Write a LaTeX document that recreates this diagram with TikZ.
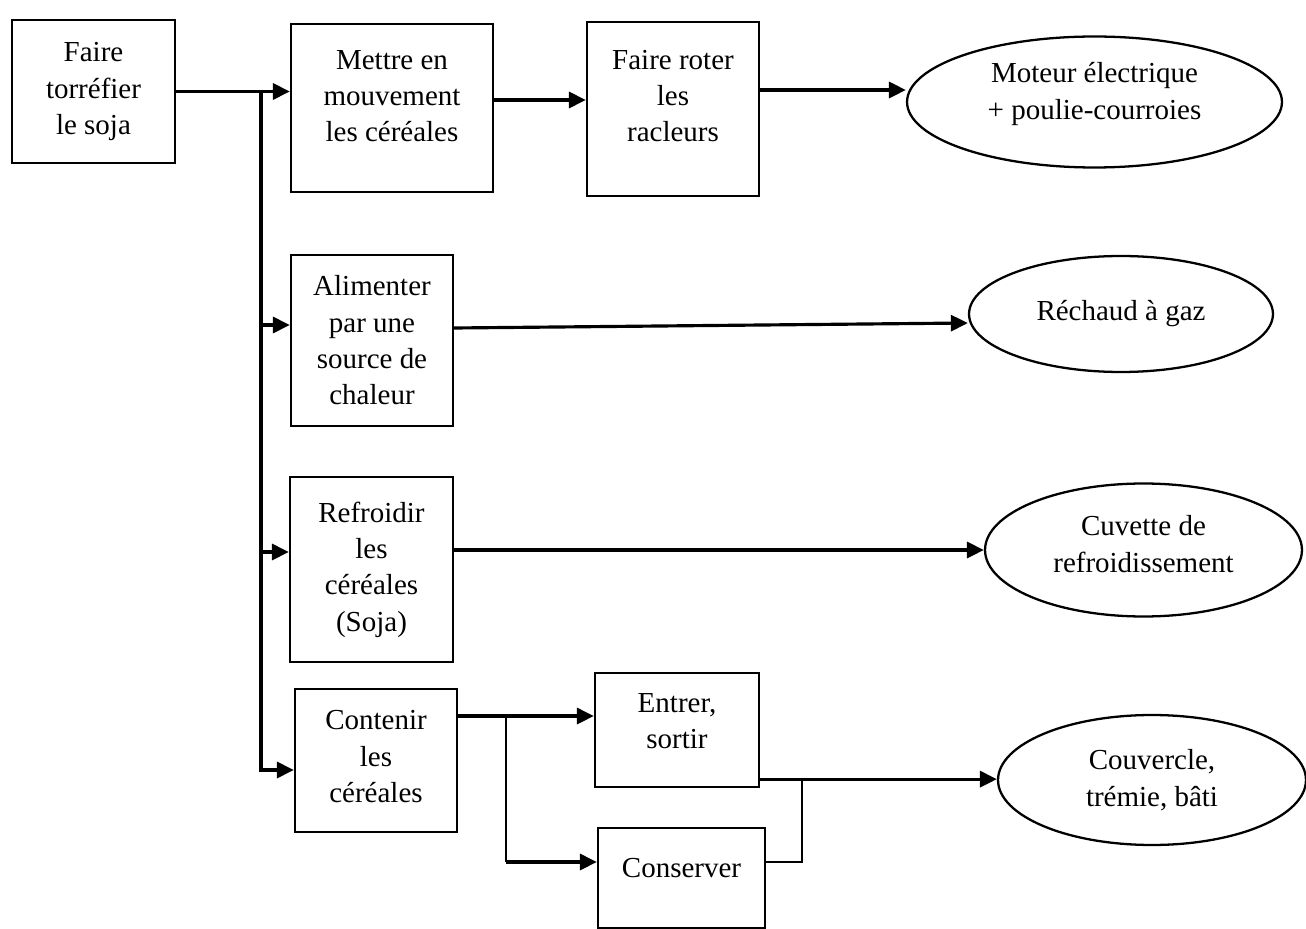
\documentclass[tikz,border=0pt]{standalone}
\usepackage{fontspec}
\setmainfont{Liberation Serif}
\usepackage{tikz}
\usetikzlibrary{shapes,arrows,arrows.meta,positioning,calc}

\begin{document}
\begin{tikzpicture}[x=0.02cm, y=-0.02cm, >={Triangle[length=0.34cm,width=0.32cm]}, line width=1.8pt, font=\fontsize{16.5}{20.7}\selectfont]
\tikzstyle{bloc}=[draw=black, rectangle, line width=1.3pt, align=center, inner sep=0pt]
\tikzstyle{ovale}=[draw=black, ellipse, line width=1.3pt, align=center, inner sep=0pt]
\tikzstyle{fin}=[line width=0.8pt]
\useasboundingbox (0,0) rectangle (1306,929);

% fonctions
\node[bloc, minimum width=3.26cm, minimum height=2.86cm] (torrefier) at (93.5,91.5) {Faire\\torréfier\\le soja};
\node[bloc, minimum width=4.04cm, minimum height=3.36cm, text depth=0.48cm] (mouvement) at (392,108) {Mettre en\\mouvement\\les céréales};
\node[bloc, minimum width=3.44cm, minimum height=3.48cm, text depth=0.52cm] (racleurs) at (673,109) {Faire roter\\les\\racleurs};
\node[bloc, minimum width=3.24cm, minimum height=3.42cm] (alimenter) at (372,340.5) {Alimenter\\par une\\source de\\chaleur};
\node[bloc, minimum width=3.26cm, minimum height=3.7cm] (refroidir) at (371.5,569.5) {Refroidir\\les\\céréales\\(Soja)};
\node[bloc, minimum width=3.24cm, minimum height=2.86cm, text depth=0.16cm] (contenir) at (376,760.5) {Contenir\\les\\céréales};
\node[bloc, minimum width=3.28cm, minimum height=2.28cm, text depth=0.36cm] (entrer) at (677,730) {Entrer,\\sortir};
\node[bloc, minimum width=3.34cm, minimum height=2cm, text depth=0.4cm] (conserver) at (681.5,878) {Conserver};

% solutions
\node[ovale, minimum width=7.5cm, minimum height=2.62cm, text depth=0.45cm] (moteur) at (1094.5,102) {Moteur électrique\\+ poulie-courroies};
\node[ovale, minimum width=6.08cm, minimum height=2.32cm] (rechaud) at (1121,314) {Réchaud à gaz};
\node[ovale, minimum width=6.34cm, minimum height=2.66cm, text depth=0.24cm] (cuvette) at (1143.5,550) {Cuvette de\\refroidissement};
\node[ovale, minimum width=6.16cm, minimum height=2.6cm] (couvercle) at (1152,780) {Couvercle,\\trémie, bâti};

% points de depart
\coordinate (jonction) at (261,91.5);
\coordinate (s1) at ([yshift=0.16cm]mouvement.east);
\coordinate (s2) at ([yshift=0.38cm]racleurs.east);
\coordinate (s3) at ([yshift=0.25cm]alimenter.east);
\coordinate (s4) at ([yshift=0.39cm]refroidir.east);
\coordinate (s5) at ([yshift=0.89cm]contenir.east);
\coordinate (s6) at ([yshift=0.18cm]entrer.south east);
\coordinate (s7) at ([yshift=0.32cm]conserver.west);
\coordinate (s8) at ([yshift=0.32cm]conserver.east);
\coordinate (fourche) at ($(s5)+(48,0)$);
\coordinate (retour) at ($(s6)+(42,0)$);

\draw[->] (torrefier.east) -- (torrefier.east -| mouvement.west);
\draw[->] (jonction) |- ([yshift=0.31cm]alimenter.west);
\draw[->] (jonction) |- ([yshift=0.35cm]refroidir.west);
\draw[->] (jonction) |- ([yshift=-0.19cm]contenir.west);
\draw[->] (s1) -- (s1 -| racleurs.west);
\draw[->] (s2) -- (s2 -| moteur.west);
\draw[->] (s3) -- ([yshift=-0.18cm]rechaud.west);
\draw[->] (s4) -- (s4 -| cuvette.west);
\draw[->] (s5) -- (s5 -| entrer.west);
\draw[fin] (fourche) -- (fourche |- s7);
\draw[->] (fourche |- s7) -- (s7);
\draw[->] (s6) -- (s6 -| couvercle.west);
\draw[fin] (s8) -| (retour);
\end{tikzpicture}
\end{document}
